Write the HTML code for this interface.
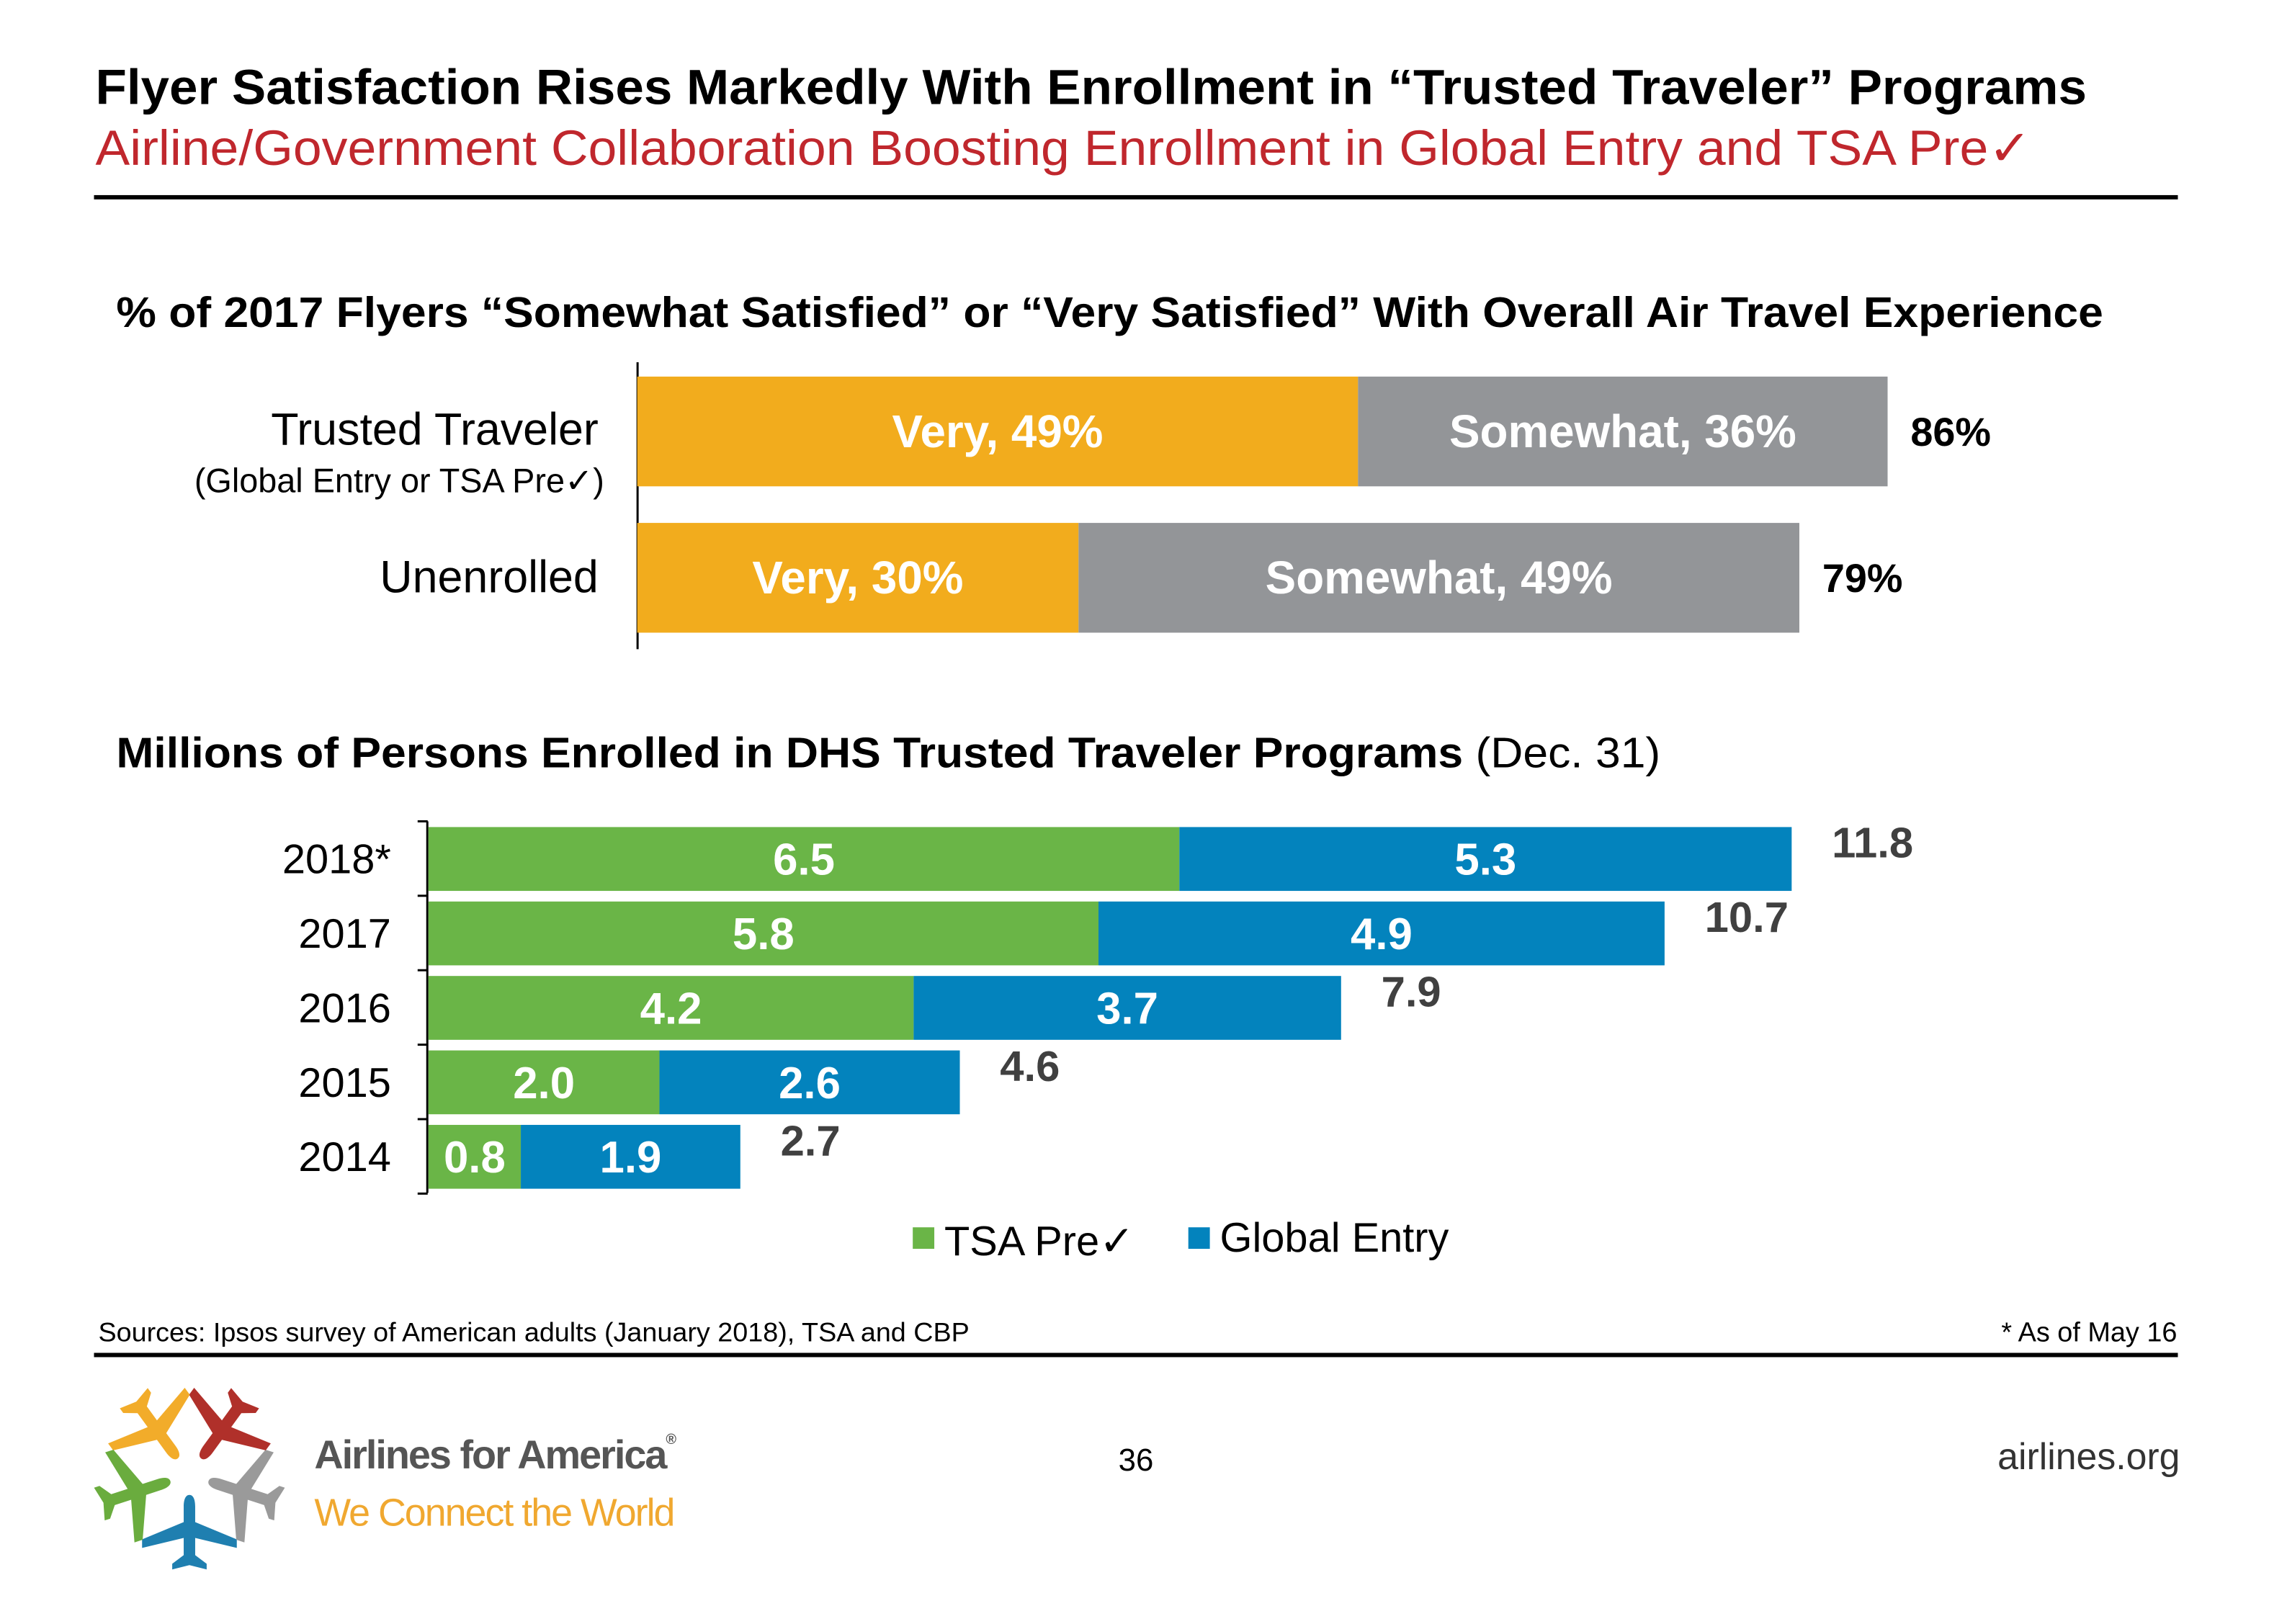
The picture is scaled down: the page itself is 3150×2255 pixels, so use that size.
<!DOCTYPE html>
<html><head><meta charset="utf-8"><style>
html,body{margin:0;padding:0;background:#fff}
svg text{font-family:"Liberation Sans",sans-serif}
</style></head><body>
<svg width="3150" height="2250" viewBox="0 0 3162 2259" preserveAspectRatio="none" xmlns="http://www.w3.org/2000/svg">
<text x="133" y="145" font-size="69" font-weight="bold" fill="#000" textLength="2775" lengthAdjust="spacingAndGlyphs">Flyer Satisfaction Rises Markedly With Enrollment in “Trusted Traveler” Programs</text>
<text x="133" y="230" font-size="69" fill="#c0272d" textLength="2698" lengthAdjust="spacingAndGlyphs">Airline/Government Collaboration Boosting Enrollment in Global Entry and TSA Pre✓</text>
<rect x="131" y="272" width="2904" height="6" fill="#000"/>

<text x="162" y="456" font-size="60" font-weight="bold" fill="#000" textLength="2769" lengthAdjust="spacingAndGlyphs">% of 2017 Flyers “Somewhat Satisfied” or “Very Satisfied” With Overall Air Travel Experience</text>
<g id="chart1"></g>

<text x="162" y="1070" font-size="60" fill="#000" textLength="2152" lengthAdjust="spacingAndGlyphs"><tspan font-weight="bold">Millions of Persons Enrolled in DHS Trusted Traveler Programs</tspan> (Dec. 31)</text>
<g id="chart2"></g>

<rect x="1272" y="1711" width="30" height="30" fill="#6ab547"/>
<text x="1316" y="1750" font-size="58" fill="#000">TSA Pre✓</text>
<rect x="1656" y="1711" width="30" height="30" fill="#0383bd"/>
<text x="1700" y="1745" font-size="58" fill="#000">Global Entry</text>

<text x="137" y="1870" font-size="37" fill="#000" textLength="1214" lengthAdjust="spacingAndGlyphs">Sources: Ipsos survey of American adults (January 2018), TSA and CBP</text>
<text x="3034" y="1870" font-size="38" fill="#000" text-anchor="end">* As of May 16</text>
<rect x="131" y="1886" width="2904" height="6" fill="#000"/>

<g id="logo"></g>
<text x="438" y="2047" font-size="56" font-weight="bold" fill="#555" letter-spacing="-2">Airlines for America<tspan font-size="20" dy="-34">®</tspan></text>
<text x="438" y="2127" font-size="54" fill="#f0a830" letter-spacing="-2">We Connect the World</text>
<text x="1583" y="2050" font-size="44" fill="#000" text-anchor="middle">36</text>
<text x="3038" y="2048" font-size="52" fill="#333" text-anchor="end">airlines.org</text>
</svg>
<script>
const NS='http://www.w3.org/2000/svg';
function mk(parent,tag,attrs,txt){const e=document.createElementNS(NS,tag);for(const k in attrs)e.setAttribute(k,attrs[k]);if(txt!==undefined)e.textContent=txt;parent.appendChild(e);return e;}

// Chart 1 data
const satGroups=['Trusted Traveler','Unenrolled'];
const satVery=[49,30];
const satSomewhat=[36,49];
const satTotals=['86%','79%'];

// Chart 2 data
const years=['2018*','2017','2016','2015','2014'];
const tsaPre=[6.5,5.8,4.2,2.0,0.8];
const globalEntry=[5.3,4.9,3.7,2.6,1.9];
const enrollTotals=['11.8','10.7','7.9','4.6','2.7'];

// chart 1
(function(){
  const g=document.getElementById('chart1');
  const x0=888, perPct=20.5, rowTop=[525,729], h=153;
  const x=v=>x0+v*perPct;
  const ax=mk(g,'rect',{x:887,y:505,width:3,height:400,fill:'#000'});
  
  
  satGroups.forEach((name,i)=>{
    const y=rowTop[i], cy=y+h/2;
    const b1=mk(g,'rect',{x:x(0),y:y,width:x(satVery[i])-x(0),height:h,fill:'#f2ac1d'});
    
    
    const b2=mk(g,'rect',{x:x(satVery[i]),y:y,width:x(satVery[i]+satSomewhat[i])-x(satVery[i]),height:h,fill:'#939598'});
    
    
    const t1=mk(g,'text',{x:(x(0)+x(satVery[i]))/2,y:cy+22,'font-size':64,'font-weight':'bold',fill:'#fff','text-anchor':'middle'},'Very, '+satVery[i]+'%');
    
    
    const t2=mk(g,'text',{x:(x(satVery[i])+x(satVery[i]+satSomewhat[i]))/2,y:cy+22,'font-size':64,'font-weight':'bold',fill:'#fff','text-anchor':'middle'},'Somewhat, '+satSomewhat[i]+'%');
    
    
    const tt=mk(g,'text',{x:x(satVery[i]+satSomewhat[i])+32,y:cy+20,'font-size':56,'font-weight':'bold',fill:'#000'},satTotals[i]);
    
    
  });
  const l1=mk(g,'text',{x:834,y:620,'font-size':63,fill:'#000','text-anchor':'end'},satGroups[0]);
  
  
  const l1b=mk(g,'text',{x:842,y:686,'font-size':47,fill:'#000','text-anchor':'end'},'(Global Entry or TSA Pre✓)');
  
  
  const l2=mk(g,'text',{x:834,y:826,'font-size':63,fill:'#000','text-anchor':'end'},satGroups[1]);
  
  
})();

// chart 2
(function(){
  const g=document.getElementById('chart2');
  const x0=597, perUnit=161, top0=1153, pitch=103.8, h=89;
  const x=v=>x0+v*perUnit;
  const ax=mk(g,'rect',{x:594,y:1145,width:3,height:518,fill:'#000'});
  
  
  for(let k=0;k<=years.length;k++){
    const tk=mk(g,'rect',{x:582,y:1145+k*pitch-1.5,width:14,height:3,fill:'#000'});
    
    
  }
  years.forEach((yr,i)=>{
    const y=top0+i*pitch, cy=y+h/2;
    const a=tsaPre[i], b=globalEntry[i];
    const r1=mk(g,'rect',{x:x(0),y:y,width:x(a)-x(0),height:h,fill:'#6ab547'});
    
    
    const r2=mk(g,'rect',{x:x(a),y:y,width:x(a+b)-x(a),height:h,fill:'#0383bd'});
    
    
    const t1=mk(g,'text',{x:(x(0)+x(a))/2,y:cy+22,'font-size':62,'font-weight':'bold',fill:'#fff','text-anchor':'middle'},a.toFixed(1));
    
    
    const t2=mk(g,'text',{x:(x(a)+x(a+b))/2,y:cy+22,'font-size':62,'font-weight':'bold',fill:'#fff','text-anchor':'middle'},b.toFixed(1));
    
    
    const tt=mk(g,'text',{x:x(a+b)+56,y:cy-2,'font-size':60,'font-weight':'bold',fill:'#404040'},enrollTotals[i]);
    
    
    const yl=mk(g,'text',{x:545,y:cy+20,'font-size':58,fill:'#000','text-anchor':'end'},yr);
    
    
  });
})();

// logo
(function(){
  const g=document.getElementById('logo');
  const cx=264, cy=2056;
  const cols=['#1f7fb0','#9a9a9a','#b0302a','#f2ac2a','#6aac3e'];
  const d='M0,-52 C6,-52 8,-44 8,-36 L8,-14 L66,10 L66,22 L8,8 L8,32 L24,44 L24,52 L0,46 L-24,52 L-24,44 L-8,32 L-8,8 L-66,22 L-66,10 L-8,-14 L-8,-36 C-8,-44 -6,-52 0,-52 Z';
  cols.forEach((c,i)=>{
    const p=mk(g,'path',{d:d,fill:c,transform:`rotate(${-i*72} ${cx} ${cy}) translate(${cx} ${cy+80})`});
    
    
  });
})();
</script>
</body></html>
